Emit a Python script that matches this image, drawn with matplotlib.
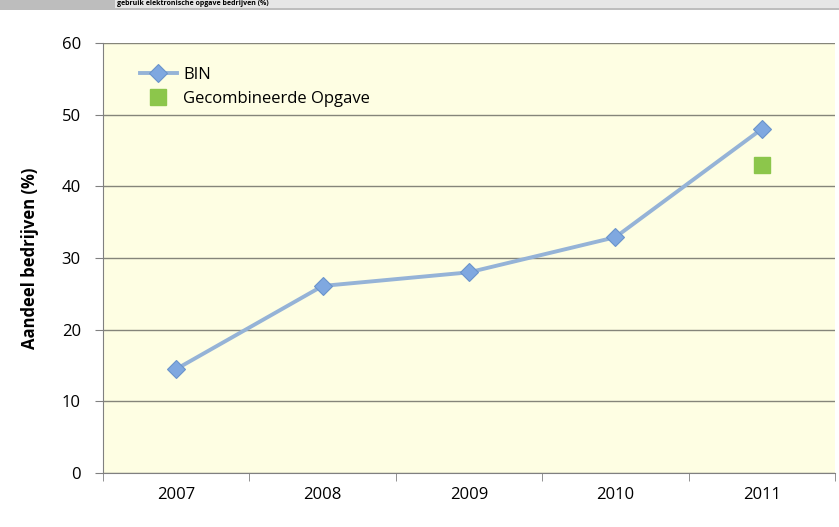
import matplotlib.pyplot as plt
from matplotlib.patches import Rectangle

years = ['2007', '2008', '2009', '2010', '2011']
bin_values = [14.5, 26.1, 28.0, 32.9, 48.0]
gecomb_years = ['2011']
gecomb_values = [43.0]
yticks = [0, 10, 20, 30, 40, 50, 60]

plt.rcParams['font.family'] = ['Open Sans', 'DejaVu Sans']

fig = plt.figure(figsize=(8.39, 5.27), dpi=100)
fig.patch.set_facecolor('white')
ax = fig.add_axes([0.1228, 0.1025, 0.8724, 0.8159])
ax.set_facecolor('#fefee3')

x = list(range(len(years)))
ax.plot(x, bin_values, color='#95b3d7', lw=2.8, marker='D', markersize=9,
        markerfacecolor='#7fa8e0', markeredgecolor='#6a94cc', markeredgewidth=0.8,
        label='BIN', zorder=3)
gx = [years.index(y) for y in gecomb_years]
ax.plot(gx, gecomb_values, ls='none', marker='s', markersize=12,
        color='#8cc64b', label='Gecombineerde Opgave', zorder=3)

ax.set_xlim(-0.5, len(years) - 0.5)
ax.set_ylim(0, 60)
ax.set_yticks(yticks)
ax.set_xticks(x)
ax.set_xticklabels(years)
ax.set_xticks([i - 0.5 for i in range(len(years) + 1)], minor=True)
ax.tick_params(axis='x', which='major', length=0, pad=10, labelsize=12)
ax.tick_params(axis='x', which='minor', length=6, color='#808080')
ax.tick_params(axis='y', length=6, color='#808080', labelsize=12, pad=10)
ax.grid(axis='y', color='#85857a', lw=1)
ax.set_axisbelow(True)
for s in ['top', 'right']:
    ax.spines[s].set_visible(False)
ax.spines['left'].set_color('#808080')
ax.spines['bottom'].set_color('#808080')
ax.set_ylabel('Aandeel bedrijven (%)', fontsize=12, fontweight='bold', labelpad=16)

ax.legend(loc='upper left', bbox_to_anchor=(0.03, 0.98), frameon=False,
          fontsize=12, handlelength=2.2, handletextpad=0.4, labelspacing=0.5)

# title band at the top (cut off in the source image)
fig.patches.append(Rectangle((0, 0.981), 1, 0.019, transform=fig.transFigure,
                             facecolor='#bdbdbd', edgecolor='none'))
fig.patches.append(Rectangle((0.137, 0.985), 0.863, 0.015, transform=fig.transFigure,
                             facecolor='#e6e6e6', edgecolor='none'))
fig.text(0.14, 0.9925, 'gebruik elektronische opgave bedrijven (%)', fontsize=5,
         fontweight='bold', va='center', ha='left')

fig.savefig('out.png', dpi=100)
